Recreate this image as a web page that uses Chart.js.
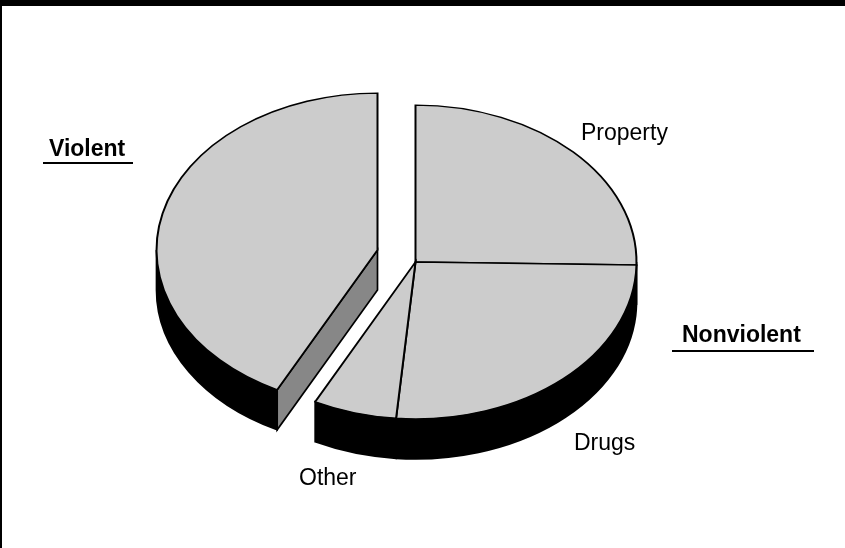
<!DOCTYPE html>
<html>
<head>
<title>Offense Types</title>
<script src="https://cdn.jsdelivr.net/npm/chart.js"></script>
<style>
  html, body { margin: 0; padding: 0; background: #fff; }
  #wrap { position: relative; width: 845px; height: 548px; }
</style>
</head>
<body>
<div id="wrap"><canvas id="pie"></canvas></div>
<script>
// wedges go clockwise from 12 o'clock
const categories = ['Property', 'Drugs', 'Other', 'Violent'];
const shares = [25.3, 26.1, 6.1, 42.5];
const groupNames = ['Violent', 'Nonviolent'];

const TOP_FILL = '#cccccc';
const CUT_FILL = '#878787';
const WALL_FILL = '#000000';
const TILT = 0.71;   // vertical squash of the disc
const DEPTH = 40;    // disc thickness
const PULL = { index: 3, dx: -38, dy: -12 };   // exploded wedge

const FONT = '"Liberation Sans", Arial, Helvetica, sans-serif';
const sliceLabelPos = { Property: [581, 140], Drugs: [574, 450], Other: [299, 485] };
const groupLabelPos = [
    { x: 49, y: 156, line: [43, 133, 162] },
    { x: 682, y: 342, line: [672, 814, 350] }
];

const pie3d = {
    id: 'pie3d',
    beforeDraw(chart) {
        const ctx = chart.ctx;
        ctx.save();
        ctx.fillStyle = '#000';
        ctx.fillRect(0, 0, chart.width, 6);
        ctx.fillRect(0, 0, 2, chart.height);
        ctx.restore();
    },
    beforeDatasetsDraw(chart) {
        const ctx = chart.ctx;
        const arcs = chart.getDatasetMeta(0).data;
        const n = arcs.length;
        const pulled = i => i === PULL.index;
        const geo = arcs.map((a, i) => {
            const p = a.getProps(['x', 'y', 'startAngle', 'endAngle', 'outerRadius'], true);
            return {
                arc: a,
                cx: p.x + (pulled(i) ? PULL.dx : 0),
                cy: p.y + (pulled(i) ? PULL.dy : 0),
                r: p.outerRadius,
                ry: p.outerRadius * TILT,
                a0: p.startAngle,
                a1: p.endAngle
            };
        });

        ctx.save();
        ctx.lineWidth = 1.7;
        ctx.strokeStyle = '#000';
        ctx.lineJoin = 'miter';

        // cut faces where a wedge is pulled away from its neighbour
        const face = (g, ang) => {
            const ox = g.cx + g.r * Math.cos(ang);
            const oy = g.cy + g.ry * Math.sin(ang);
            ctx.beginPath();
            ctx.moveTo(g.cx, g.cy);
            ctx.lineTo(ox, oy);
            ctx.lineTo(ox, oy + DEPTH);
            ctx.lineTo(g.cx, g.cy + DEPTH);
            ctx.closePath();
            ctx.fillStyle = CUT_FILL;
            ctx.fill();
            ctx.stroke();
        };
        geo.forEach((g, i) => {
            const prev = (i + n - 1) % n, next = (i + 1) % n;
            if (pulled(i) !== pulled(prev) && Math.cos(g.a0) < 0) face(g, g.a0);
            if (pulled(i) !== pulled(next) && Math.cos(g.a1) > 0) face(g, g.a1);
        });

        // outer rim on the front half
        geo.forEach(g => {
            const s = Math.max(g.a0, 0), e = Math.min(g.a1, Math.PI);
            if (e <= s) return;
            ctx.beginPath();
            ctx.ellipse(g.cx, g.cy, g.r, g.ry, 0, s, e);
            ctx.ellipse(g.cx, g.cy + DEPTH, g.r, g.ry, 0, e, s, true);
            ctx.closePath();
            ctx.fillStyle = WALL_FILL;
            ctx.fill();
            ctx.stroke();
        });
        ctx.restore();

        // top faces: the arcs themselves, squashed into the tilted plane
        geo.forEach(g => {
            ctx.save();
            ctx.translate(g.cx, g.cy);
            ctx.scale(1, TILT);
            ctx.translate(-g.arc.x, -g.arc.y);
            g.arc.draw(ctx);
            ctx.restore();
        });
        return false;
    },
    afterDraw(chart) {
        const ctx = chart.ctx;
        ctx.save();
        ctx.fillStyle = '#000';
        ctx.textAlign = 'left';
        ctx.textBaseline = 'alphabetic';

        ctx.font = '23px ' + FONT;
        chart.data.labels.forEach(name => {
            const pos = sliceLabelPos[name];
            if (pos) ctx.fillText(name, pos[0], pos[1]);
        });

        ctx.font = 'bold 23px ' + FONT;
        groupNames.forEach((name, i) => {
            const g = groupLabelPos[i];
            ctx.fillText(name, g.x, g.y);
            ctx.fillRect(g.line[0], g.line[2], g.line[1] - g.line[0], 2);
        });
        ctx.restore();
    }
};

new Chart(document.getElementById('pie'), {
    type: 'pie',
    data: {
        labels: categories,
        datasets: [{
            data: shares,
            backgroundColor: TOP_FILL,
            borderColor: '#000',
            borderWidth: 2,
            borderJoinStyle: 'miter'
        }]
    },
    options: {
        responsive: true,
        maintainAspectRatio: false,
        animation: false,
        events: [],
        radius: 221,
        layout: { padding: { left: 0, right: 14, top: 0, bottom: 24 } },
        plugins: {
            legend: { display: false },
            tooltip: { enabled: false }
        }
    },
    plugins: [pie3d]
});
</script>
</body>
</html>
